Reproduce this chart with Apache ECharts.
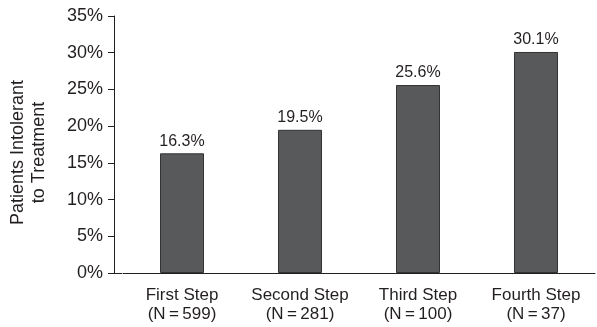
<!DOCTYPE html>
<html>
<head>
<meta charset="utf-8">
<script src="https://cdn.jsdelivr.net/npm/echarts@6/dist/echarts.min.js"></script>
<style>
  html, body { margin: 0; padding: 0; background: #fff; }
  #chart { width: 597px; height: 327px; }
</style>
</head>
<body>
<div id="chart"></div>
<script>
// Treatment steps and the share of patients intolerant at each step
const steps = ['First Step', 'Second Step', 'Third Step', 'Fourth Step'];
const patientCounts = [599, 281, 100, 37];
const intolerantPct = [16.3, 19.5, 25.6, 30.1];
const yTicks = [0, 5, 10, 15, 20, 25, 30, 35];

const categoryLabels = steps.map((s, i) => s + '\n(N\u2009=\u2009' + patientCounts[i] + ')');

const FONT = '"Liberation Sans", Arial, Helvetica, sans-serif';
const INK = '#231f20';

const chart = echarts.init(document.getElementById('chart'), null, { renderer: 'canvas' });

chart.setOption({
  animation: false,
  backgroundColor: '#ffffff',
  grid: { left: 121, right: 2, top: 16, bottom: 54, containLabel: false },
  xAxis: {
    type: 'category',
    data: categoryLabels,
    axisLine: { lineStyle: { color: INK, width: 1 } },
    axisTick: { show: false },
    axisLabel: {
      interval: 0,
      color: INK, fontFamily: FONT, fontSize: 17, lineHeight: 19, margin: 13
    }
  },
  yAxis: {
    type: 'value',
    min: yTicks[0],
    max: yTicks[yTicks.length - 1],
    interval: 5,
    offset: 9,
    name: 'Patients Intolerant\nto Treatment',
    nameLocation: 'middle',
    nameGap: 64,
    nameTextStyle: {
      color: INK, fontFamily: FONT, fontSize: 18, lineHeight: 21,
      padding: [0, 16, 0, 0]
    },
    axisLine: { show: true, lineStyle: { color: INK, width: 1 } },
    axisTick: { show: true, inside: false, length: 6, lineStyle: { color: INK } },
    splitLine: { show: false },
    axisLabel: {
      color: INK, fontFamily: FONT, fontSize: 18, margin: 11,
      formatter: v => v + '%'
    }
  },
  // short piece of baseline bridging the offset y-axis and the plot area
  graphic: [{
    type: 'line',
    shape: { x1: 111.5, y1: 273.5, x2: 122, y2: 273.5 },
    style: { stroke: INK, lineWidth: 1 },
    z: 10
  }],
  series: [{
    type: 'bar',
    data: intolerantPct,
    barWidth: 44,
    itemStyle: { color: '#58595b', borderColor: '#333333', borderWidth: 1 },
    label: {
      show: true, position: 'top', distance: 4,
      color: INK, fontFamily: FONT, fontSize: 16,
      formatter: p => p.value.toFixed(1) + '%'
    }
  }]
});
</script>
</body>
</html>
